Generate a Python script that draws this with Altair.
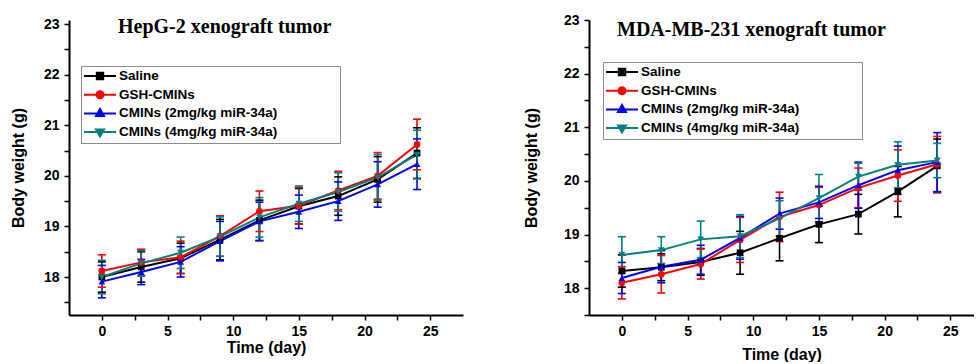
import altair as alt
import pandas as pd

DAYS = [0, 3, 6, 9, 12, 15, 18, 21, 24]
SERIES = ["Saline", "GSH-CMINs", "CMINs (2mg/kg miR-34a)", "CMINs (4mg/kg miR-34a)"]
COLORS = ["#000000", "#ff0000", "#0000ff", "#008080"]
MARKERS = ["square", "circle", "triangle-up", "triangle-down"]

# HepG-2 xenograft: mean body weight (g) per group and its SD
hepg2_saline = [18.00, 18.20, 18.37, 18.74, 19.12, 19.40, 19.60, 19.93, 20.45]
hepg2_gsh = [18.12, 18.29, 18.39, 18.81, 19.30, 19.41, 19.71, 20.00, 20.62]
hepg2_cmin2 = [17.91, 18.10, 18.30, 18.71, 19.10, 19.29, 19.50, 19.83, 20.23]
hepg2_cmin4 = [18.00, 18.27, 18.48, 18.80, 19.18, 19.45, 19.68, 19.97, 20.42]
hepg2_saline_sd = [0.30, 0.30, 0.30, 0.40, 0.40, 0.35, 0.38, 0.45, 0.50]
hepg2_gsh_sd = [0.32, 0.26, 0.32, 0.40, 0.40, 0.36, 0.38, 0.46, 0.50]
hepg2_cmin2_sd = [0.32, 0.25, 0.30, 0.39, 0.38, 0.33, 0.38, 0.45, 0.50]
hepg2_cmin4_sd = [0.33, 0.25, 0.31, 0.39, 0.39, 0.35, 0.38, 0.45, 0.48]

# MDA-MB-231 xenograft: mean body weight (g) per group and its SD
mda_saline = [18.32, 18.39, 18.49, 18.66, 18.93, 19.19, 19.38, 19.80, 20.28]
mda_gsh = [18.10, 18.26, 18.45, 18.90, 19.33, 19.55, 19.87, 20.10, 20.31]
mda_cmin2 = [18.19, 18.40, 18.53, 18.94, 19.39, 19.60, 19.92, 20.20, 20.35]
mda_cmin4 = [18.62, 18.71, 18.91, 18.97, 19.30, 19.68, 20.08, 20.30, 20.38]
mda_saline_sd = [0.30, 0.25, 0.25, 0.40, 0.42, 0.34, 0.37, 0.47, 0.50]
mda_gsh_sd = [0.30, 0.35, 0.28, 0.42, 0.46, 0.33, 0.37, 0.48, 0.52]
mda_cmin2_sd = [0.29, 0.30, 0.27, 0.40, 0.29, 0.30, 0.43, 0.45, 0.55]
mda_cmin4_sd = [0.34, 0.25, 0.34, 0.40, 0.33, 0.44, 0.25, 0.43, 0.32]

# legend glyphs: a line segment with the group's marker in the middle
LEGEND_SYMBOLS = [
    "M-1,0H1M-0.2,-0.2H0.2V0.2H-0.2Z",
    "M-1,0H1M-0.22,0A0.22,0.22,0,1,0,0.22,0A0.22,0.22,0,1,0,-0.22,0Z",
    "M-1,0H1M0,-0.27L0.25,0.17H-0.25Z",
    "M-1,0H1M0,0.27L0.25,-0.17H-0.25Z",
]

FONT = "Liberation Sans"
# blank space after each legend label widens the framed legend box
LABEL_PAD = "\u00a0" * 16 + "\u200b"


def frame(means, sds):
    rows = []
    for name, m_list, s_list in zip(SERIES, means, sds):
        for d, m, s in zip(DAYS, m_list, s_list):
            rows.append({"series": name, "day": d, "mean": m, "lo": m - s, "hi": m + s})
    return pd.DataFrame(rows)


def panel(title, means, sds, ydom, yticks, xdom, width, height,
          ytitle_pad, xtitle_pad, title_dx, title_offset, leg_x, leg_y):
    df = frame(means, sds)
    base = alt.Chart(df)

    x_scale = alt.Scale(domain=xdom, nice=False, zero=False)
    y_scale = alt.Scale(domain=ydom, nice=False, zero=False)
    x_axis = alt.Axis(title="Time (day)", values=[i * 2.5 for i in range(11)],
                      format=".0f", labelExpr="datum.value % 5 == 0 ? datum.label : ''",
                      titlePadding=xtitle_pad, labelPadding=4)
    y_axis = alt.Axis(title="Body weight (g)", values=yticks, format=".0f",
                      labelExpr="datum.value % 1 == 0 ? datum.label : ''",
                      titlePadding=ytitle_pad, labelPadding=5)
    x_enc = alt.X("day:Q", scale=x_scale, axis=x_axis)
    color_enc = alt.Color("series:N", sort=SERIES, scale=alt.Scale(range=COLORS), legend=None)

    leg = alt.Legend(
        title=None, orient="none", legendX=leg_x, legendY=leg_y, padding=2,
        strokeColor="#8c8c8c", fillColor="white",
        symbolSize=1024, symbolStrokeWidth=2, symbolFillColor="black",
        symbolStrokeColor="black", clipHeight=16, rowPadding=2.7, labelOffset=2,
        labelFont=FONT, labelFontSize=13.5, labelFontWeight="bold",
        labelColor="black", labelLimit=400,
        labelExpr="datum.label + '" + LABEL_PAD + "'",
    )
    legend_layer = base.transform_filter("false").mark_point(
        filled=True, size=1024, strokeWidth=2, opacity=1
    ).encode(
        x=x_enc,
        y=alt.Y("mean:Q", scale=y_scale, axis=y_axis),
        fill=alt.Fill("series:N", scale=alt.Scale(domain=SERIES, range=COLORS), legend=leg),
        stroke=alt.Stroke("series:N", scale=alt.Scale(domain=SERIES, range=COLORS), legend=leg),
        shape=alt.Shape("series:N", scale=alt.Scale(domain=SERIES, range=LEGEND_SYMBOLS), legend=leg),
    )

    bars = base.mark_rule(strokeWidth=1.6).encode(
        x=x_enc, y=alt.Y("lo:Q", scale=y_scale, axis=y_axis), y2="hi:Q", color=color_enc
    )
    cap_lo = base.mark_tick(orient="horizontal", size=8, thickness=1.6, opacity=1).encode(
        x=x_enc, y=alt.Y("lo:Q", scale=y_scale, axis=y_axis), color=color_enc
    )
    cap_hi = base.mark_tick(orient="horizontal", size=8, thickness=1.6, opacity=1).encode(
        x=x_enc, y=alt.Y("hi:Q", scale=y_scale, axis=y_axis), color=color_enc
    )
    lines = base.mark_line(strokeWidth=2).encode(
        x=x_enc, y=alt.Y("mean:Q", scale=y_scale, axis=y_axis), color=color_enc
    )
    markers = [
        base.transform_filter(alt.datum.series == s).mark_point(
            filled=True, shape=m, size=45, opacity=1, color=c
        ).encode(x=x_enc, y=alt.Y("mean:Q", scale=y_scale, axis=y_axis))
        for s, m, c in zip(SERIES, MARKERS, COLORS)
    ]

    return alt.layer(legend_layer, bars, cap_lo, cap_hi, lines, *markers).properties(
        width=width, height=height,
        title=alt.TitleParams(
            text=title, font="Liberation Serif", fontSize=20, fontWeight="bold",
            color="black", anchor="start", frame="group", orient="top",
            dx=title_dx, offset=title_offset,
        ),
    )


left = panel(
    "HepG-2 xenograft tumor",
    [hepg2_saline, hepg2_gsh, hepg2_cmin2, hepg2_cmin4],
    [hepg2_saline_sd, hepg2_gsh_sd, hepg2_cmin2_sd, hepg2_cmin4_sd],
    ydom=[17.25, 23.08], yticks=[17.5 + 0.5 * i for i in range(12)],
    xdom=[-2.5, 27.5], width=394, height=295,
    ytitle_pad=17, xtitle_pad=1, title_dx=49, title_offset=-20,
    leg_x=12, leg_y=46,
)
right = panel(
    "MDA-MB-231 xenograft tumor",
    [mda_saline, mda_gsh, mda_cmin2, mda_cmin4],
    [mda_saline_sd, mda_gsh_sd, mda_cmin2_sd, mda_cmin4_sd],
    ydom=[17.5, 23], yticks=[17.5 + 0.5 * i for i in range(12)],
    xdom=[-2.5, 26.8], width=385, height=295,
    ytitle_pad=24, xtitle_pad=8, title_dx=28, title_offset=-27,
    leg_x=14, leg_y=42,
)

chart = alt.hconcat(left, right, spacing=60).resolve_scale(
    x="independent", y="independent", color="independent",
    fill="independent", stroke="independent", shape="independent",
).resolve_legend(
    color="independent", fill="independent", stroke="independent", shape="independent",
).properties(
    padding={"left": 10, "top": 13, "right": 0, "bottom": 0},
).configure_view(
    stroke=None,
).configure_axis(
    domainColor="black", domainWidth=2, tickColor="black", tickWidth=1.5, tickSize=5,
    labelFont=FONT, labelFontWeight="bold", labelFontSize=14, labelColor="black",
    titleFont=FONT, titleFontWeight="bold", titleFontSize=16, titleColor="black",
    grid=False,
)

chart.save("out.html", embed_options={"renderer": "svg", "actions": False})
